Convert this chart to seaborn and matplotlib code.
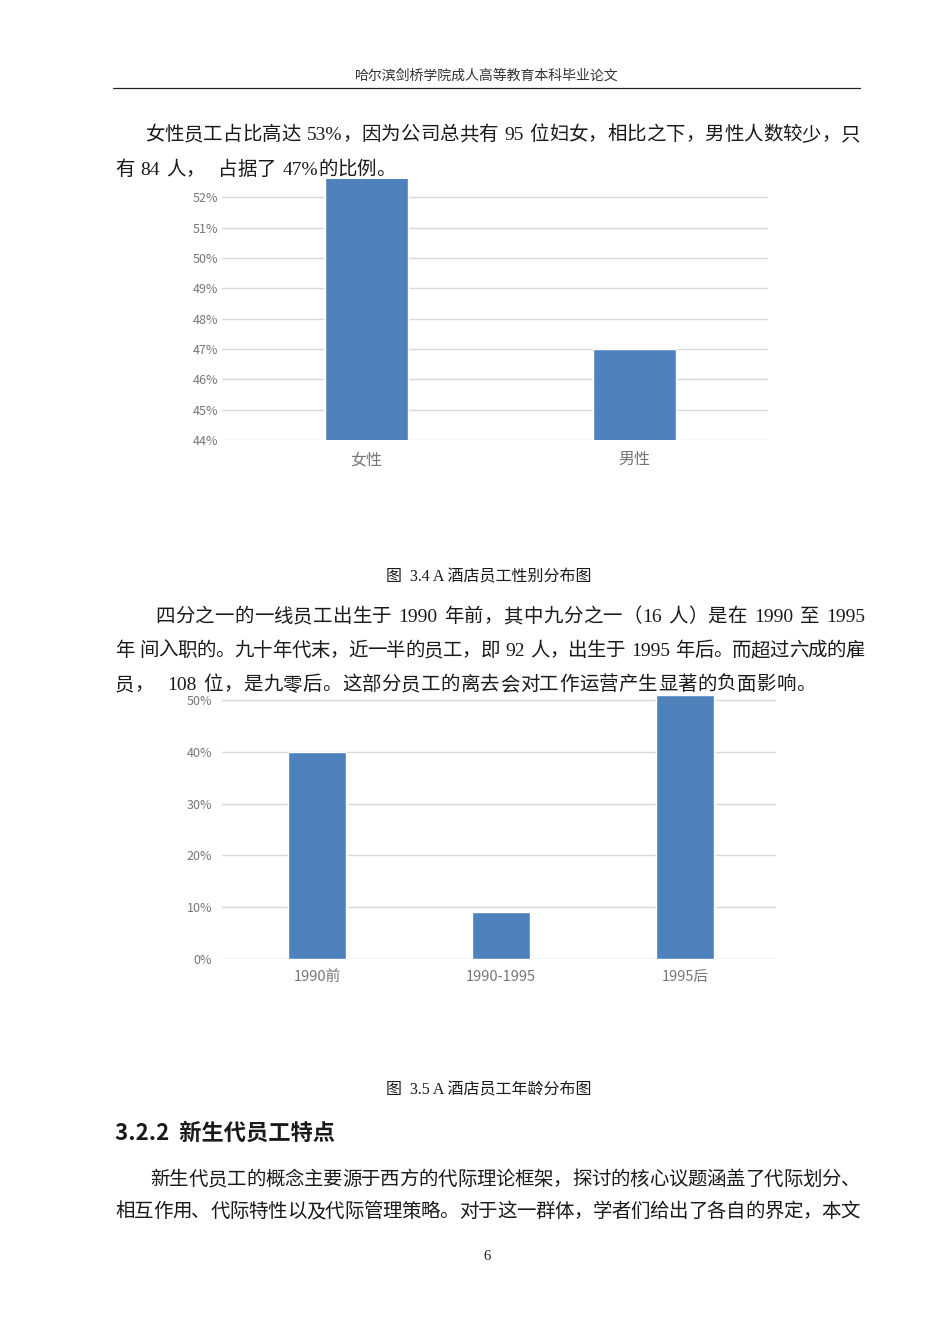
import matplotlib
matplotlib.use("Agg")
import matplotlib.pyplot as plt
import seaborn as sns
import numpy as np

# ---------------- data ----------------
gender_cats = ["女性", "男性"]
gender_vals = [53, 47]
gender_ticks = [44, 45, 46, 47, 48, 49, 50, 51, 52]

age_cats = ["1990前", "1990-1995", "1995后"]
age_vals = [40, 9, 51]
age_ticks = [0, 10, 20, 30, 40, 50]

header_text = "哈尔滨剑桥学院成人高等教育本科毕业论文"
para1 = ["女性员工占比高达 53%，因为公司总共有 95 位妇女，相比之下，男性人数较少，只",
         "有 84 人，  占据了 47%的比例。"]
caption1 = "图  3.4 A 酒店员工性别分布图"
para2 = ["四分之一的一线员工出生于 1990 年前，其中九分之一（16 人）是在 1990 至 1995",
         "年 间入职的。九十年代末，近一半的员工，即 92 人，出生于 1995 年后。而超过六成的雇",
         "员，  108 位，是九零后。这部分员工的离去会对工作运营产生显著的负面影响。"]
caption2 = "图  3.5 A 酒店员工年龄分布图"
heading = "3.2.2  新生代员工特点"
para3 = ["新生代员工的概念主要源于西方的代际理论框架，探讨的核心议题涵盖了代际划分、",
         "相互作用、代际特性以及代际管理策略。对于这一群体，学者们给出了各自的界定，本文"]
page_no = "6"

# ---------------- setup ----------------
sns.set_theme(style="white")
plt.rcParams['font.family'] = ['Liberation Serif', 'Noto Sans CJK SC', 'DejaVu Sans']

W, H = 950, 1344
fig = plt.figure(figsize=(W / 100, H / 100), dpi=100)
fig.patch.set_facecolor("white")
renderer = fig.canvas.get_renderer()

SERIF = ['Liberation Serif', 'Noto Sans CJK SC', 'DejaVu Sans']
TEXT_COLOR = "#1a1a1a"


def fx(x):
    return x / W


def fy(y):
    return 1 - y / H


def is_cjk(ch):
    return ord(ch) >= 0x2E80


def tokenize(s):
    toks = []
    buf = ""
    for ch in s:
        if ch == " ":
            if buf:
                toks.append(buf)
                buf = ""
            toks.append(" ")
        elif is_cjk(ch):
            if buf:
                toks.append(buf)
                buf = ""
            toks.append(ch)
        else:
            buf += ch
    if buf:
        toks.append(buf)
    return toks


def draw_line(s, x0, y, size=14, x1=None, color=TEXT_COLOR, family=SERIF, weight="normal", gap0=0.3):
    em = size * 100 / 72
    space_w = 0.32 * em
    toks = tokenize(s)
    widths = []
    for t in toks:
        if t == " ":
            widths.append(space_w)
        elif len(t) == 1 and is_cjk(t):
            widths.append(em)
        else:
            tmp = fig.text(0, 0, t, fontsize=size, family=family, weight=weight)
            widths.append(tmp.get_window_extent(renderer=renderer).width)
            tmp.remove()
    n = len(toks)
    if x1 is not None and n > 1:
        gap = (x1 - x0 - sum(widths)) / (n - 1)
    else:
        gap = gap0
    x = x0
    base = y + 0.36 * em
    for t, w in zip(toks, widths):
        if t != " ":
            fig.text(fx(x), fy(base), t, fontsize=size, family=family, weight=weight,
                     color=color, ha="left", va="baseline")
        x += w + gap


# header
fig.text(fx(487), fy(76), header_text, fontsize=10, family=SERIF, color="#333333",
         ha="center", va="center")
fig.add_artist(plt.Line2D([fx(113), fx(860)], [fy(88), fy(88)], color="#222222", lw=0.9))

# paragraph 1
draw_line(para1[0], 145, 133, x1=860)
draw_line(para1[1], 115, 168, gap0=0.0)

# ---------------- chart 1 ----------------
BAR = "#4F81BD"
GRID = "#D9D9D9"
TICKC = "#767676"
TICKF = ['Noto Sans CJK SC', 'DejaVu Sans']

ax1 = fig.add_axes([fx(222), fy(440), (768 - 222) / W, (440 - 179) / H])
sns.barplot(x=gender_cats, y=gender_vals, color=BAR, width=0.31, saturation=1, ax=ax1, zorder=3)
ax1.set_ylim(44, 52.6)
ax1.set_xlim(-0.54, 1.5)
ax1.set_yticks(gender_ticks)
ax1.set_yticklabels([f"{v}%" for v in gender_ticks])
ax1.yaxis.grid(True, color=GRID, lw=1, zorder=0)
ax1.set_axisbelow(True)
for sp in ax1.spines.values():
    sp.set_visible(False)
ax1.tick_params(axis="both", length=0, colors=TICKC)
ax1.tick_params(axis="y", pad=3, labelsize=9)
ax1.tick_params(axis="x", pad=8, labelsize=11.5)
for lab in ax1.get_xticklabels() + ax1.get_yticklabels():
    lab.set_family(TICKF)
    lab.set_weight("medium")
ax1.set_xlabel("")
ax1.set_ylabel("")
ax1.patch.set_alpha(0)

fig.text(fx(489), fy(577), caption1, fontsize=11.5, family=SERIF, color=TEXT_COLOR,
         ha="center", va="center")

# paragraph 2
draw_line(para2[0], 155, 615, x1=865)
draw_line(para2[1], 115, 649, x1=865)
draw_line(para2[2], 115, 683)

# ---------------- chart 2 ----------------
ax2 = fig.add_axes([fx(222), fy(959), (776 - 222) / W, (959 - 695) / H])
sns.barplot(x=age_cats, y=age_vals, color=BAR, width=0.315, saturation=1, ax=ax2, zorder=3)
ax2.set_ylim(0, 51)
ax2.set_xlim(-0.516, 2.495)
ax2.set_yticks(age_ticks)
ax2.set_yticklabels([f"{v}%" for v in age_ticks])
ax2.yaxis.grid(True, color=GRID, lw=1, zorder=0)
ax2.set_axisbelow(True)
for sp in ax2.spines.values():
    sp.set_visible(False)
ax2.tick_params(axis="both", length=0, colors=TICKC)
ax2.tick_params(axis="y", pad=7, labelsize=9)
ax2.tick_params(axis="x", pad=8, labelsize=10.5)
for lab in ax2.get_xticklabels() + ax2.get_yticklabels():
    lab.set_family(TICKF)
    lab.set_weight("medium")
ax2.set_xlabel("")
ax2.set_ylabel("")
ax2.patch.set_alpha(0)

fig.text(fx(489), fy(1090), caption2, fontsize=11.5, family=SERIF, color=TEXT_COLOR,
         ha="center", va="center")

# heading
fig.text(fx(115), fy(1133), heading, fontsize=16, family=['Noto Sans CJK SC', 'DejaVu Sans'],
         color=TEXT_COLOR, ha="left", va="center", weight="bold")

# paragraph 3
draw_line(para3[0], 150, 1178, x1=860)
draw_line(para3[1], 115, 1210, x1=860)

# page number
fig.text(fx(487), fy(1257), page_no, fontsize=10.5, family=SERIF, color=TEXT_COLOR,
         ha="center", va="center")

fig.savefig("out.png", dpi=100, facecolor="white")
